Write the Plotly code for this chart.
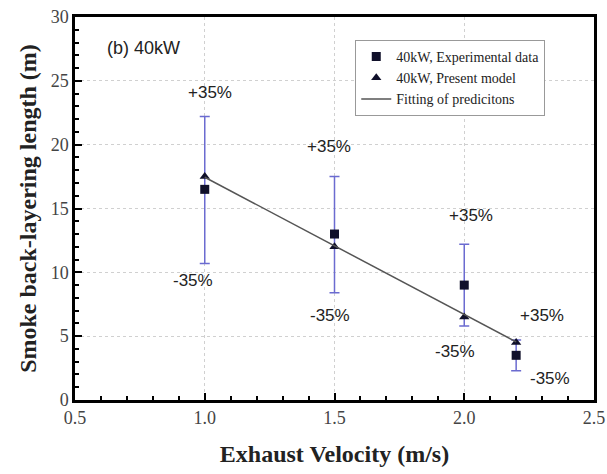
import plotly.graph_objects as go

velocity = [1.0, 1.5, 2.0, 2.2]
exp_length = [16.5, 13.0, 9.0, 3.5]
err_plus = [5.7, 4.5, 3.2, 1.2]
err_minus = [5.8, 4.6, 3.2, 1.2]
model_length = [17.5, 12.0, 6.5, 4.5]
fit_x = [1.0, 2.2]
fit_y = [17.45, 4.55]

plus_labels_x = [1.02, 1.477, 2.026, 2.298]
plus_labels_y = [24.05, 19.83, 14.48, 6.6]
minus_labels_x = [0.956, 1.484, 1.963, 2.329]
minus_labels_y = [9.39, 6.65, 3.78, 1.7]

serif = "Liberation Serif, Times New Roman, serif"
sans = "Liberation Sans, Arial, sans-serif"

fig = go.Figure()

fig.add_trace(go.Scatter(
    x=velocity, y=exp_length, mode="markers",
    name="40kW, Experimental data",
    marker=dict(symbol="square", size=9, color="#10102a"),
    error_y=dict(type="data", symmetric=False, array=err_plus, arrayminus=err_minus,
                 color="#6b6bd0", thickness=1.5, width=5),
))
fig.add_trace(go.Scatter(
    x=velocity, y=model_length, mode="markers",
    name="40kW, Present model",
    marker=dict(symbol="triangle-up", size=9, color="#10102a"),
))
fig.add_trace(go.Scatter(
    x=fit_x, y=fit_y, mode="lines",
    name="Fitting of predicitons",
    line=dict(color="#555555", width=1.5),
))

for x, y in zip(plus_labels_x, plus_labels_y):
    fig.add_annotation(x=x, y=y, text="+35%", showarrow=False,
                       font=dict(family=sans, size=17, color="#222"))
for x, y in zip(minus_labels_x, minus_labels_y):
    fig.add_annotation(x=x, y=y, text="-35%", showarrow=False,
                       font=dict(family=sans, size=17, color="#222"))

fig.add_annotation(x=0.616, y=27.57, text="(b) 40kW", showarrow=False, xanchor="left",
                   font=dict(family=sans, size=18, color="#222"))

fig.update_layout(
    width=607, height=474,
    margin=dict(l=75, r=13, t=17, b=74),
    plot_bgcolor="white", paper_bgcolor="white",
    showlegend=True,
    legend=dict(x=0.54, y=0.94, xanchor="left", yanchor="top",
                bgcolor="white", bordercolor="#999", borderwidth=1,
                font=dict(family=serif, size=14, color="#222"),
                tracegroupgap=0, itemwidth=30),
)

fig.update_xaxes(
    range=[0.5, 2.5], dtick=0.5, tick0=0.5, tickformat=".1f",
    showline=True, linecolor="black", linewidth=2.5, mirror=True,
    ticks="inside", ticklen=7, tickwidth=2, tickcolor="black",
    minor=dict(dtick=0.1, ticks="inside", ticklen=4, tickwidth=1.5, tickcolor="black", showgrid=False),
    showgrid=True, gridcolor="#d0d0d0", griddash="dot", gridwidth=1,
    zeroline=False,
    tickfont=dict(family=serif, size=18, color="#444"),
    title=dict(text="<b>Exhaust Velocity (m/s)</b>", font=dict(family=serif, size=24, color="#222"), standoff=18),
    automargin=False,
)
fig.update_yaxes(
    range=[0, 30], dtick=5,
    showline=True, linecolor="black", linewidth=2.5, mirror=True,
    ticks="inside", ticklen=7, tickwidth=2, tickcolor="black",
    minor=dict(dtick=1, ticks="inside", ticklen=4, tickwidth=1.5, tickcolor="black", showgrid=False),
    showgrid=True, gridcolor="#d0d0d0", griddash="dot", gridwidth=1,
    zeroline=False,
    tickfont=dict(family=serif, size=18, color="#444"),
    title=dict(text="<b>Smoke back-layering length (m)</b>", font=dict(family=serif, size=24, color="#222"), standoff=8),
    automargin=False,
)

fig.write_html("out.html", config={"displayModeBar": False},
               post_script="document.body.style.margin='0';")
